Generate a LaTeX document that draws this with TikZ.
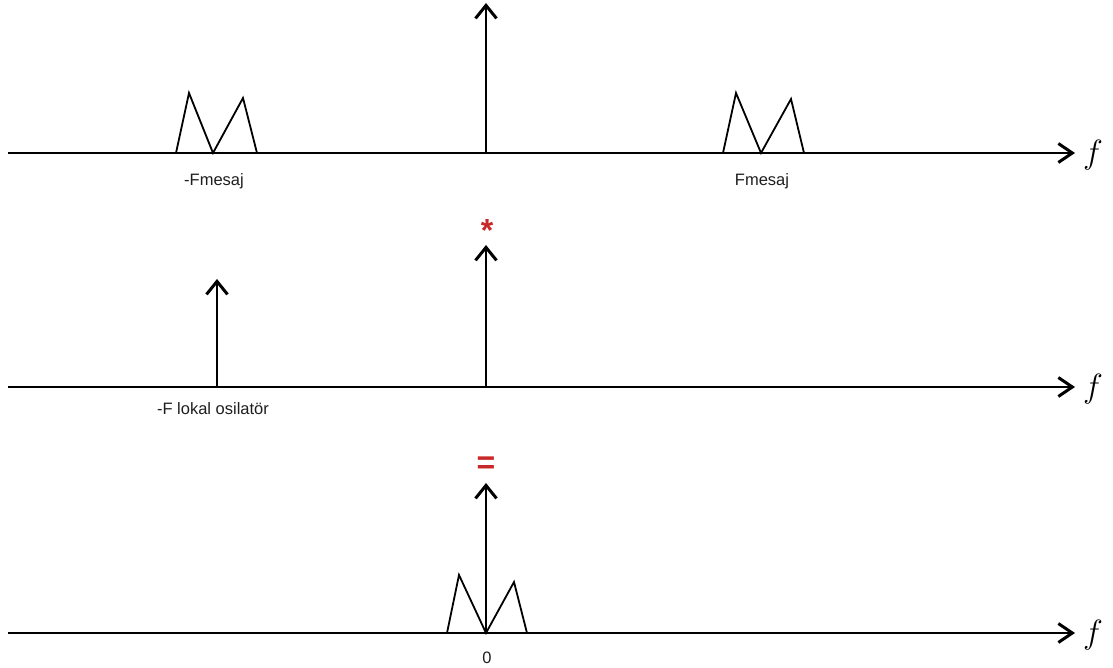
\documentclass[tikz,border=0pt]{standalone}
\usepackage{fontspec}
\setmainfont{Liberation Sans}
\usetikzlibrary{arrows.meta}
\definecolor{redsym}{RGB}{200,40,40}
\definecolor{txtgray}{RGB}{30,30,30}
\tikzset{
  every picture/.style={x=1pt,y=-1pt},
  axisline/.style={line width=1.8pt,-{Straight Barb[length=14pt,width=19pt,line width=3pt]}},
  spike/.style={line width=1.8pt,-{Straight Barb[length=13pt,width=21pt,line width=3pt]}},
  lobe/.style={line width=1.8pt,line join=miter},
  lbl/.style={text=txtgray,font=\fontsize{16.5}{18}\selectfont,inner sep=0pt},
  flbl/.style={font=\fontsize{24}{26}\selectfont,inner sep=0pt,scale=1.35},
  redmark/.style={text=redsym,font=\bfseries\fontsize{32}{34}\selectfont,inner sep=0pt}
}
\begin{document}
\begin{tikzpicture}
\useasboundingbox (0,0) rectangle (1113,668);
% ---------- top panel ----------
\coordinate (a1s) at (8,153);
\coordinate (a1e) at (1075,153);
\draw[axisline] (a1s) -- (a1e);
\node[flbl] (f1) at (1093,155) {$f$};
\coordinate (s1b) at (486,153);
\coordinate (s1t) at (486,3);
\draw[spike] (s1b) -- (s1t);
\draw[lobe] (176,153) -- (189,93) -- (213,153) -- (243,98) -- (257,153);
\draw[lobe] (723,153) -- (736,93) -- (761,153) -- (791,99) -- (804,153);
\node[lbl] (l1) at (214,181) {-Fmesaj};
\node[lbl] (l2) at (762,181) {Fmesaj};
% ---------- middle panel ----------
\coordinate (a2s) at (8,387);
\coordinate (a2e) at (1075,387);
\draw[axisline] (a2s) -- (a2e);
\node[flbl] (f2) at (1093,389) {$f$};
\coordinate (s2b) at (217,387);
\coordinate (s2t) at (217,279);
\draw[spike] (s2b) -- (s2t);
\coordinate (s3b) at (486,387);
\coordinate (s3t) at (486,245);
\draw[spike] (s3b) -- (s3t);
\node[redmark] (star) at (487,230) {*};
\node[lbl] (l3) at (213,409) {-F lokal osilatör};
% ---------- bottom panel ----------
\coordinate (a3s) at (8,633);
\coordinate (a3e) at (1075,633);
\draw[axisline] (a3s) -- (a3e);
\node[flbl] (f3) at (1093,635) {$f$};
\coordinate (s4b) at (486,633);
\coordinate (s4t) at (486,483);
\draw[spike] (s4b) -- (s4t);
\draw[lobe] (447,633) -- (459,575) -- (486,633) -- (514,582) -- (527,633);
\node[redmark] (eq) at (486,465) {=};
\node[lbl] (l4) at (487,658) {0};
\end{tikzpicture}
\end{document}
